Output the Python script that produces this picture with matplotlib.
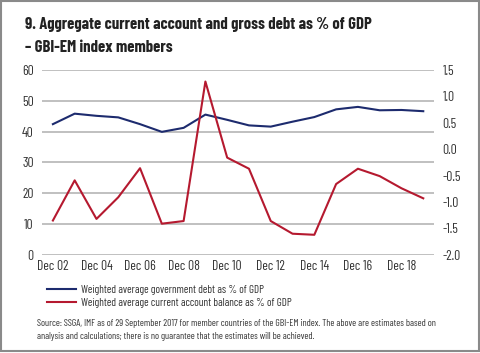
import matplotlib.pyplot as plt
from matplotlib.patches import Rectangle
from matplotlib.lines import Line2D

plt.rcParams['font.family'] = ['Barlow Condensed', 'DejaVu Sans']

years = list(range(2002, 2020))
debt = [42.4, 45.8, 45.1, 44.6, 42.4, 39.9, 41.2, 45.5, 43.8, 42.0,
        41.6, 43.2, 44.7, 47.2, 48.0, 46.9, 47.0, 46.6]
cab = [-1.35, -0.59, -1.32, -0.91, -0.36, -1.41, -1.36, 1.28, -0.16, -0.37,
       -1.36, -1.60, -1.62, -0.66, -0.37, -0.51, -0.74, -0.93]
xlabels = ['Dec 02', 'Dec 04', 'Dec 06', 'Dec 08', 'Dec 10', 'Dec 12',
           'Dec 14', 'Dec 16', 'Dec 18']

blue = '#1d2b6e'
red = '#b5192f'
txt = '#333333'

fig = plt.figure(figsize=(4.8, 3.53), dpi=100)
ax = fig.add_axes([0.0875, 0.278, 0.817, 0.524])
ax2 = ax.twinx()

ax.plot(years, debt, color=blue, lw=1.5, zorder=3)
ax2.plot(years, cab, color=red, lw=1.5, zorder=3)

ax.set_xlim(2001.5, 2019.5)
ax.set_ylim(0, 60)
ax.set_yticks(range(0, 61, 10))
ax2.set_ylim(-2.0, 1.5)
ax2.set_yticks([-2.0, -1.5, -1.0, -0.5, 0.0, 0.5, 1.0, 1.5])
ax2.set_yticklabels(['%.1f' % v for v in ax2.get_yticks()])
ax.set_xticks(years[::2])
ax.set_xticklabels(xlabels)

ax.grid(axis='y', color='#b5b5b5', lw=1.2)
ax.set_axisbelow(True)
for a in (ax, ax2):
    for s in a.spines.values():
        s.set_visible(False)
    a.tick_params(length=0, labelsize=9.8, colors=txt)
ax.tick_params(axis='y', pad=6)
ax.tick_params(axis='x', pad=4)
ax2.tick_params(axis='y', pad=6)

fig.text(0.052, 0.917, '9. Aggregate current account and gross debt as % of GDP',
         fontsize=12, fontweight='bold', color='#222222')
fig.text(0.052, 0.852, '\u2013 GBI-EM index members',
         fontsize=12, fontweight='bold', color='#222222')

handles = [Line2D([], [], color=blue, lw=1.5), Line2D([], [], color=red, lw=1.5)]
fig.legend(handles, ['Weighted average government debt as % of GDP',
                     'Weighted average current account balance as % of GDP'],
           loc='upper left', bbox_to_anchor=(0.089, 0.206), frameon=False,
           fontsize=8, handlelength=2.6, handletextpad=0.45,
           labelspacing=0.3, borderaxespad=0, labelcolor=txt)

fig.text(0.078, 0.097, 'Source: SSGA, IMF as of 29 September 2017 for member countries of the GBI-EM index. '
         'The above are estimates based on\nanalysis and calculations; there is no guarantee '
         'that the estimates will be achieved.',
         fontsize=7, color=txt, va='top', linespacing=1.55)

fig.patches.append(Rectangle((0.003, 0.006), 0.994, 0.99, transform=fig.transFigure,
                             fill=False, edgecolor='#8a8a8a', lw=1.5))

fig.savefig('out.png', dpi=100)
